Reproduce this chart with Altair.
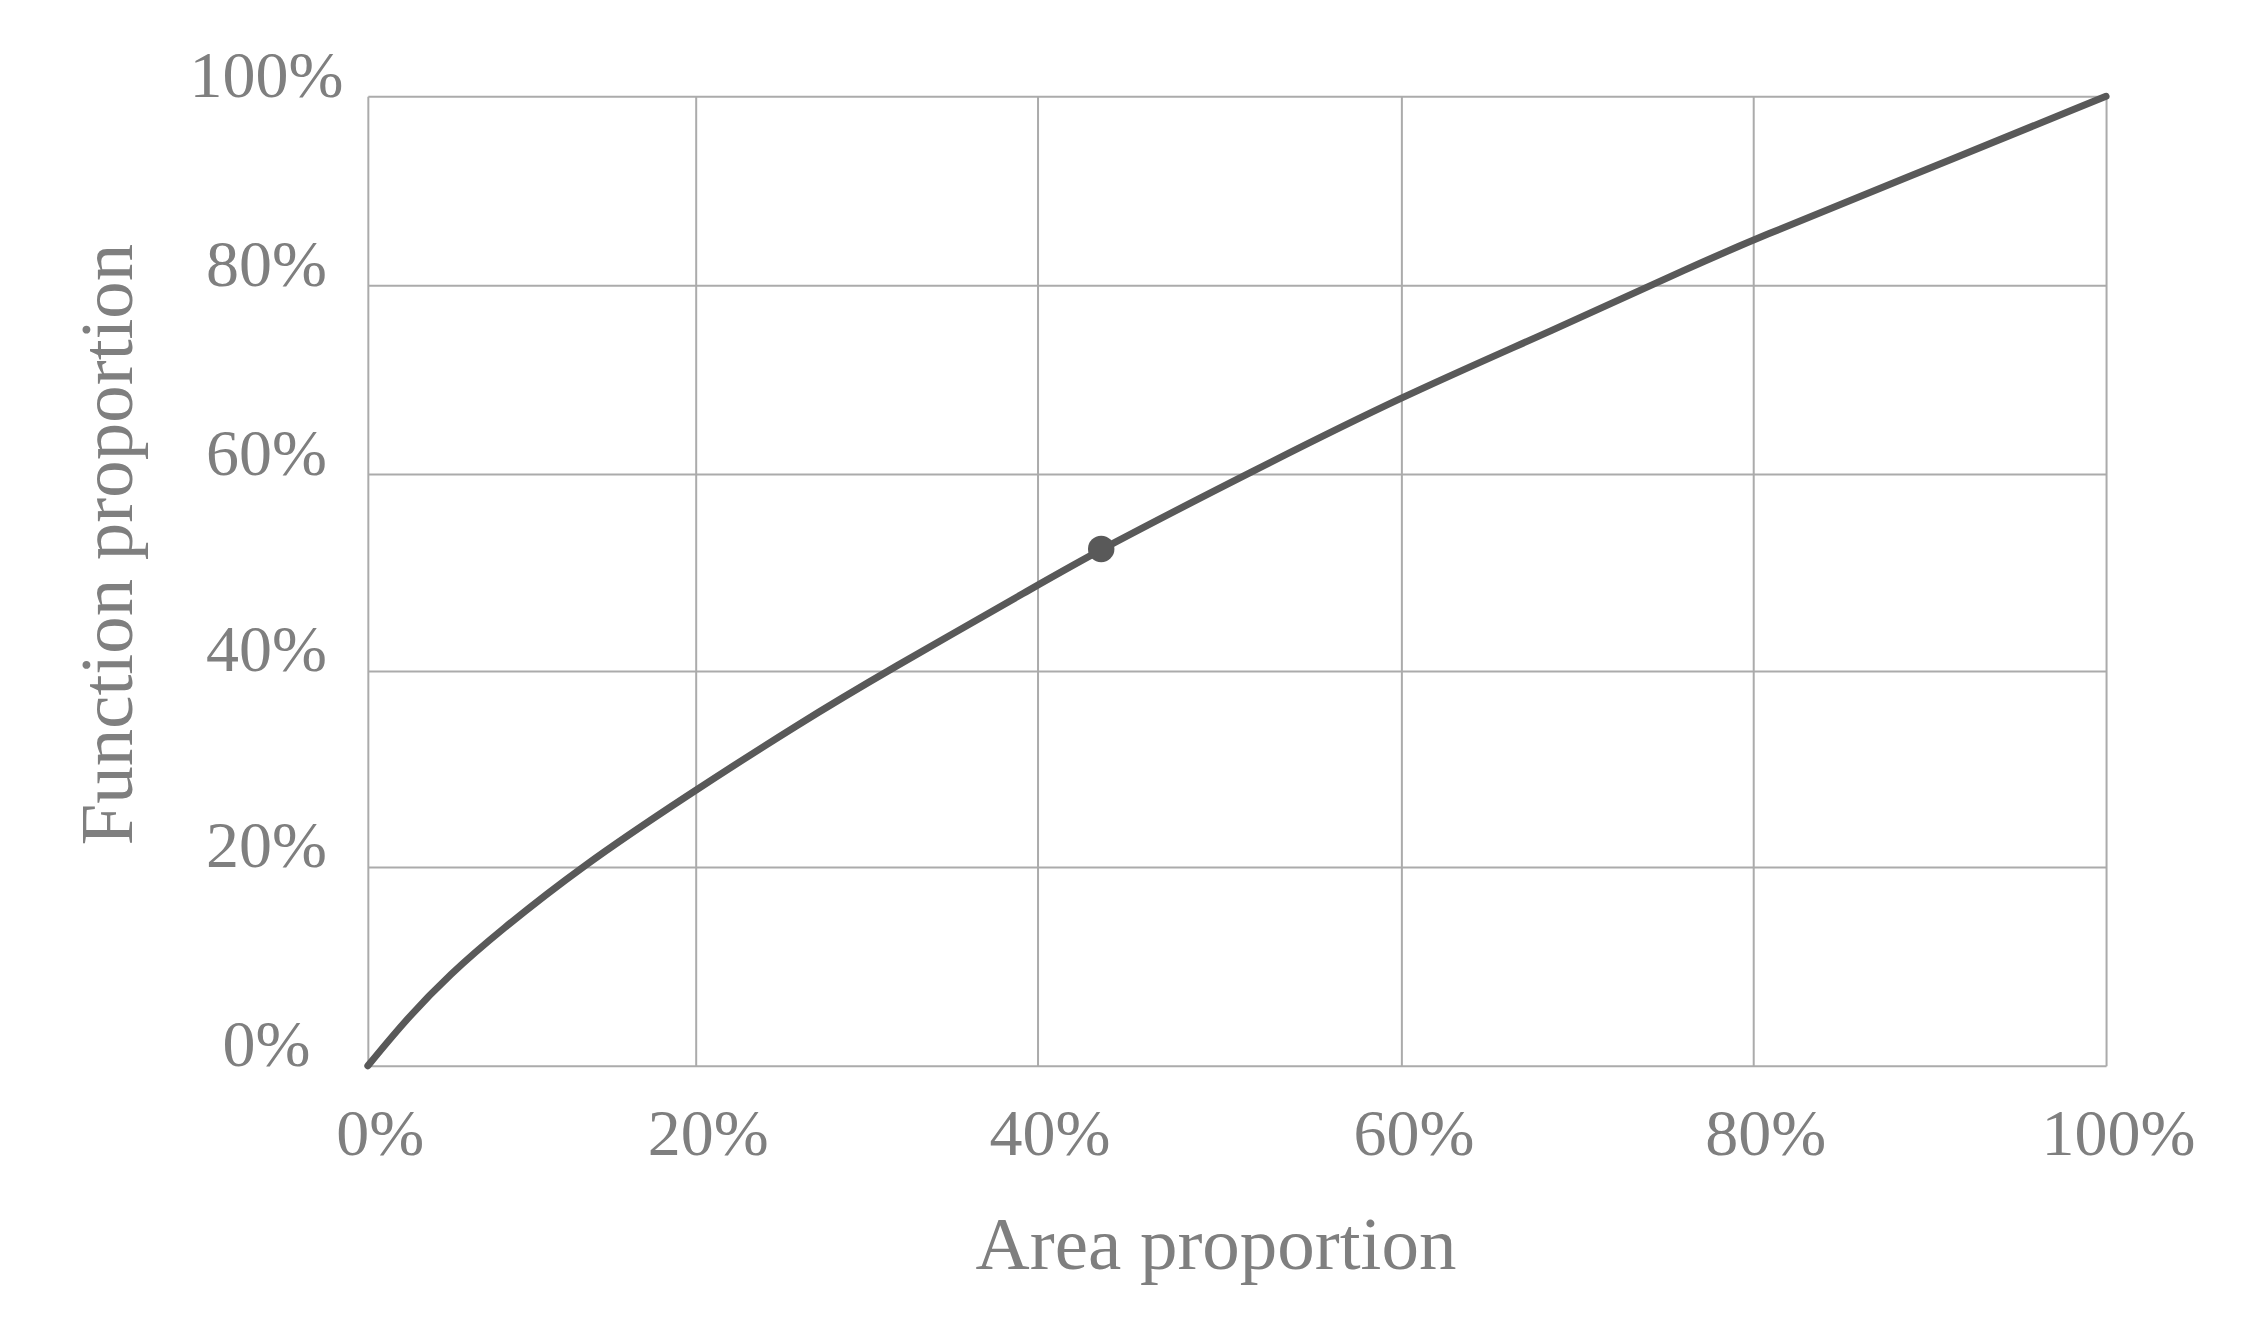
import altair as alt
import pandas as pd

# Curve (percent values)
area_pct = [0, 2.4, 5.0, 8.0, 13.0, 19.3, 26.1, 31.2, 40.0, 43.5, 51.7, 60.0, 68.6, 76.9, 80.0, 88.3, 100]
func_pct = [0, 4.8, 9.2, 13.5, 20.0, 27.1, 34.7, 40.0, 48.7, 52.4, 60.2, 68.2, 75.2, 82.3, 84.8, 91.1, 100]

# Highlighted point
dot_area = [43.5]
dot_func = [52.4]

tick_values = [0, 20, 40, 60, 80, 100]

curve = pd.DataFrame({"area": area_pct, "func": func_pct})
dot = pd.DataFrame({"area": dot_area, "func": dot_func})

FONT = "Liberation Serif"
TXT = "#7f7f7f"
GRID = "#ababab"
LINE = "#595959"

W, H = 1739, 970

xscale = alt.Scale(domain=tick_values, range=[0, 328, 670, 1034, 1386, W], nice=False, zero=False)
yscale = alt.Scale(domain=tick_values, range=[H, 771, 575, 378, 189, 0], nice=False, zero=False)

xaxis = alt.Axis(
    values=tick_values, labelExpr="datum.value + '%'", ticks=False, tickSize=0, domain=False,
    grid=True, gridColor=GRID, gridWidth=2,
    labelFont=FONT, labelFontSize=66, labelColor=TXT, labelPadding=89,
    labelBaseline="alphabetic", labelAlign="center", labelOffset=12,
    title="Area proportion", titleFont=FONT, titleFontSize=75, titleFontWeight="normal",
    titleColor=TXT, titleX=848, titleY=203, titleAlign="center", titleBaseline="alphabetic",
)
yaxis = alt.Axis(
    values=tick_values, labelExpr="datum.value + '%'", ticks=False, tickSize=0, domain=False,
    grid=True, gridColor=GRID, gridWidth=2,
    labelFont=FONT, labelFontSize=66, labelColor=TXT, labelPadding=102,
    labelBaseline="alphabetic", labelAlign="center",
    title="Function proportion", titleFont=FONT, titleFontSize=75, titleFontWeight="normal",
    titleColor=TXT, titleX=-236, titleY=448, titleAlign="center", titleBaseline="alphabetic",
    titleAngle=270,
)

line = alt.Chart(curve).mark_line(
    color=LINE, strokeWidth=7, interpolate="basis", strokeCap="round", strokeJoin="round"
).encode(
    x=alt.X("area:Q", scale=xscale, axis=xaxis),
    y=alt.Y("func:Q", scale=yscale, axis=yaxis),
)

point = alt.Chart(dot).mark_point(filled=True, color=LINE, size=700, opacity=1, shape="circle").encode(
    x=alt.X("area:Q", scale=xscale),
    y=alt.Y("func:Q", scale=yscale),
)

chart = alt.layer(line, point).properties(
    width=W, height=H,
    autosize=alt.AutoSizeParams(type="none"),
    padding={"left": 360, "top": 88, "right": 130, "bottom": 250},
    background="white",
).configure_view(strokeWidth=0)

chart.save("out.html", embed_options={"renderer": "svg", "actions": False})
